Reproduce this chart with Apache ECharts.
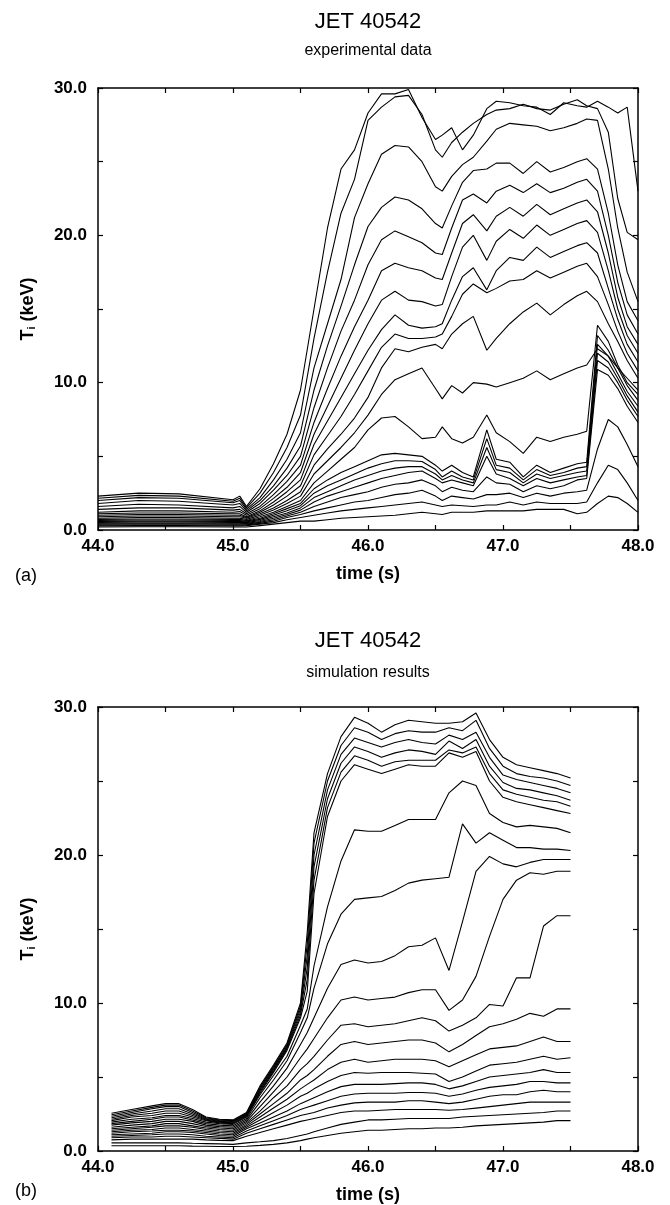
<!DOCTYPE html>
<html><head><meta charset="utf-8">
<script src="https://cdn.jsdelivr.net/npm/echarts@6/dist/echarts.min.js"></script>
<style>html,body{margin:0;padding:0;background:#fff}#c{width:670px;height:1205px}</style>
</head><body><div id="c"></div>
<script>
// ---------- Panel (a): experimental data ----------
const timeA = [44.0,44.3,44.6,45.0,45.05,45.1,45.2,45.3,45.4,45.5,45.6,45.7,45.8,45.9,46.0,46.1,46.2,46.3,46.4,46.5,46.55,46.62,46.7,46.78,46.88,46.95,47.05,47.15,47.25,47.35,47.45,47.55,47.62,47.7,47.78,47.85,47.92,48.0];
const exp01 = [2.3,2.5,2.45,2.05,2.3,1.6,2.8,4.5,6.5,9.5,15.0,20.5,24.5,25.8,28.3,29.6,29.6,29.9,28.0,26.5,26.8,27.3,25.8,26.8,28.6,29.1,29.0,28.8,28.7,28.2,29.0,28.8,28.7,29.1,28.7,28.3,28.7,23.0];
const exp02 = [2.15,2.35,2.3,1.95,2.15,1.5,2.5,3.9,5.6,7.8,13.0,17.5,21.5,23.8,27.8,28.7,29.4,29.5,28.2,25.8,25.3,26.3,27.0,27.6,28.2,28.5,28.6,28.9,28.6,28.5,28.9,29.2,28.8,28.6,27.0,22.5,20.2,19.7];
const exp03 = [2.0,2.2,2.15,1.85,2.0,1.4,2.2,3.4,4.8,6.6,11.0,14.0,17.0,21.2,23.5,25.5,26.1,26.0,25.0,23.3,23.0,24.0,24.8,25.3,26.4,27.2,27.6,27.5,27.4,27.1,27.3,27.6,27.9,27.8,24.5,20.5,17.5,15.5];
const exp04 = [1.8,2.0,1.95,1.7,1.8,1.3,2.0,3.0,4.2,5.7,9.5,12.5,15.2,18.0,20.6,21.9,22.6,22.4,21.8,20.8,20.5,22.0,23.6,24.4,24.5,24.9,24.9,24.2,25.0,24.3,24.6,25.0,25.2,24.5,21.5,18.0,15.5,14.2];
const exp05 = [1.6,1.75,1.7,1.5,1.6,1.2,1.8,2.7,3.7,5.0,8.3,11.0,13.5,15.6,18.0,19.7,20.3,19.9,19.5,18.8,18.7,20.5,22.4,22.8,22.2,23.0,23.4,22.9,23.5,22.9,23.2,23.6,23.8,23.0,20.0,16.8,14.6,13.3];
const exp06 = [1.4,1.5,1.5,1.35,1.4,1.1,1.6,2.4,3.3,4.4,7.3,9.6,11.8,13.8,15.6,17.6,18.1,17.8,17.6,17.1,17.0,18.8,20.8,21.4,20.3,21.3,21.9,21.3,22.1,21.4,21.8,22.2,22.4,21.6,18.8,15.8,13.8,12.6];
const exp07 = [1.2,1.3,1.3,1.2,1.25,1.0,1.45,2.15,2.9,3.9,6.5,8.4,10.3,12.2,14.0,15.6,16.2,15.6,15.5,15.2,15.3,17.2,19.2,20.0,18.3,19.6,20.4,19.8,20.7,20.0,20.4,20.8,21.0,20.2,17.6,15.0,13.2,12.0];
const exp08 = [1.1,1.15,1.15,1.1,1.1,0.9,1.3,1.9,2.6,3.4,5.8,7.4,9.0,10.6,12.2,13.6,14.6,13.9,13.7,13.8,14.0,15.6,17.2,17.8,16.3,17.6,18.5,18.3,19.2,18.5,18.9,19.3,19.5,18.8,16.4,14.3,12.6,11.4];
const exp09 = [1.0,1.05,1.05,1.0,1.0,0.85,1.2,1.7,2.3,3.0,5.1,6.4,7.7,9.2,10.8,12.4,13.3,13.0,13.0,13.1,13.3,14.5,16.0,16.7,16.1,16.4,16.9,17.0,17.6,17.1,17.5,17.9,18.1,17.2,15.3,13.5,12.0,10.8];
const exp10 = [0.9,0.95,0.95,0.9,0.9,0.8,1.1,1.5,2.0,2.6,4.4,5.5,6.5,7.6,9.0,11.0,12.3,12.1,12.4,12.6,12.3,13.3,14.0,14.5,12.2,13.0,14.0,14.8,15.4,14.6,15.3,15.9,16.2,15.5,14.0,12.8,11.5,10.3];
const exp11 = [0.8,0.85,0.85,0.8,0.8,0.72,1.0,1.35,1.8,2.3,3.8,4.7,5.6,6.6,7.8,9.2,10.2,10.6,11.0,9.6,8.9,9.8,9.3,10.0,9.9,9.7,10.0,10.3,10.8,10.2,10.6,11.0,11.2,12.3,11.8,11.0,10.3,9.5];
const exp12 = [0.72,0.75,0.75,0.72,0.72,0.65,0.9,1.2,1.6,2.0,3.2,4.0,4.8,5.6,6.8,7.6,7.7,7.0,6.2,6.3,7.0,6.2,5.9,6.3,7.8,6.6,6.0,5.2,6.3,6.0,6.3,6.5,6.7,13.9,12.8,11.2,10.0,9.2];
const exp13 = [0.65,0.68,0.68,0.65,0.65,0.6,0.8,1.1,1.45,1.8,2.8,3.4,3.9,4.3,4.7,5.1,5.2,5.1,5.0,4.4,4.0,4.4,3.9,3.6,6.8,4.8,4.6,3.6,4.4,3.9,4.2,4.5,4.6,13.2,12.2,11.0,9.8,8.8];
const exp14 = [0.58,0.6,0.6,0.58,0.58,0.55,0.72,1.0,1.3,1.65,2.5,3.0,3.4,3.8,4.2,4.5,4.7,4.7,4.65,4.1,3.6,4.0,3.6,3.4,6.2,4.4,4.2,3.4,4.1,3.7,3.9,4.2,4.3,12.6,11.8,10.6,9.4,8.4];
const exp15 = [0.52,0.54,0.54,0.52,0.52,0.5,0.65,0.9,1.15,1.5,2.2,2.6,3.0,3.4,3.7,4.0,4.2,4.3,4.3,3.8,3.4,3.7,3.4,3.2,5.6,4.1,3.9,3.2,3.8,3.5,3.7,3.9,4.0,12.0,11.4,10.3,9.1,8.0];
const exp16 = [0.46,0.48,0.48,0.46,0.46,0.45,0.58,0.8,1.05,1.35,1.9,2.3,2.6,2.9,3.2,3.5,3.7,3.9,4.0,3.5,3.2,3.4,3.2,3.0,5.0,3.8,3.5,3.0,3.5,3.2,3.4,3.6,3.7,11.5,11.0,10.0,8.8,7.7];
const exp17 = [0.4,0.42,0.42,0.4,0.4,0.4,0.52,0.7,0.95,1.2,1.6,1.9,2.2,2.4,2.6,2.9,3.1,3.2,3.4,3.0,2.6,2.9,2.7,2.6,3.6,3.2,3.1,2.6,3.0,2.8,3.0,3.4,3.5,10.9,10.5,9.6,8.4,7.3];
const exp18 = [0.34,0.36,0.36,0.34,0.34,0.35,0.45,0.6,0.85,1.05,1.3,1.5,1.7,1.9,2.0,2.2,2.4,2.5,2.7,2.3,2.0,2.3,2.2,2.1,2.4,2.4,2.5,2.2,2.5,2.3,2.5,2.6,2.7,5.5,7.5,7.0,5.8,4.3];
const exp19 = [0.28,0.3,0.3,0.28,0.28,0.3,0.4,0.5,0.7,0.85,1.0,1.15,1.3,1.4,1.5,1.6,1.7,1.8,1.9,1.7,1.6,1.7,1.65,1.6,1.7,1.7,1.9,1.7,1.9,1.8,1.8,1.8,1.9,3.2,4.4,4.1,3.2,2.0];
const exp20 = [0.2,0.22,0.22,0.2,0.2,0.2,0.3,0.4,0.5,0.6,0.6,0.7,0.8,0.85,0.9,0.95,1.0,1.1,1.2,1.1,1.05,1.2,1.2,1.2,1.3,1.3,1.3,1.3,1.4,1.4,1.4,1.1,1.2,1.8,2.3,2.2,1.8,1.2];

// ---------- Panel (b): simulation results ----------
const timeB = [44.1,44.25,44.4,44.5,44.6,44.7,44.8,44.9,45.0,45.1,45.2,45.3,45.4,45.5,45.55,45.6,45.7,45.8,45.9,46.0,46.1,46.2,46.3,46.4,46.5,46.6,46.7,46.8,46.9,47.0,47.1,47.2,47.3,47.4,47.5];
const sim01 = [2.55,2.8,3.05,3.2,3.2,2.8,2.3,2.15,2.1,2.6,4.4,5.8,7.3,10.0,14.8,21.5,25.5,28.0,29.3,28.9,28.3,28.8,29.1,29.0,28.9,28.9,29.0,29.6,27.8,26.6,26.1,25.9,25.7,25.5,25.2];
const sim02 = [2.45,2.7,2.95,3.1,3.1,2.7,2.25,2.1,2.05,2.55,4.3,5.7,7.2,9.8,14.0,20.8,25.0,27.4,28.6,28.3,27.8,28.2,28.4,28.3,28.3,28.6,28.4,29.1,27.2,26.0,25.5,25.3,25.2,25.0,24.7];
const sim03 = [2.35,2.6,2.85,3.0,3.0,2.6,2.2,2.05,2.0,2.5,4.2,5.6,7.1,9.6,13.2,20.0,24.4,26.8,27.9,27.6,27.3,27.6,27.8,27.6,27.5,28.1,27.8,28.3,26.6,25.4,25.1,24.9,24.7,24.5,24.2];
const sim04 = [2.25,2.5,2.7,2.85,2.85,2.5,2.15,2.0,1.95,2.45,4.1,5.5,7.0,9.4,12.4,19.2,23.8,26.2,27.3,27.0,26.6,26.9,27.1,27.0,26.8,27.7,27.2,27.8,26.0,24.9,24.5,24.4,24.2,24.0,23.7];
const sim05 = [2.15,2.4,2.55,2.7,2.7,2.4,2.1,1.95,1.9,2.4,4.0,5.4,6.9,9.2,11.6,18.3,23.2,25.6,26.7,26.4,26.0,26.3,26.4,26.4,26.4,27.1,26.9,27.3,25.5,24.4,24.1,23.9,23.7,23.6,23.3];
const sim06 = [2.05,2.3,2.4,2.55,2.55,2.3,2.05,1.9,1.85,2.35,3.9,5.3,6.8,9.0,10.8,17.4,22.6,25.0,26.1,25.8,25.5,25.8,26.1,26.0,26.0,26.9,26.6,27.0,25.0,23.9,23.6,23.4,23.2,23.0,22.8];
const sim07 = [1.95,2.15,2.25,2.4,2.4,2.2,1.95,1.85,1.8,2.3,3.8,5.1,6.4,8.5,9.6,12.5,16.5,19.6,21.7,21.6,21.6,22.0,22.4,22.4,22.4,24.2,25.0,24.7,22.8,22.2,21.9,22.0,21.9,21.8,21.5];
const sim08 = [1.85,2.0,2.15,2.3,2.3,2.1,1.85,1.75,1.7,2.2,3.6,4.8,6.1,8.0,9.0,11.0,14.0,16.0,17.0,17.1,17.2,17.6,18.1,18.3,18.4,18.5,22.1,20.8,21.5,21.0,20.5,20.5,20.4,20.4,20.3];
const sim09 = [1.75,1.9,2.0,2.15,2.15,2.0,1.75,1.65,1.6,2.1,3.3,4.4,5.6,7.2,8.0,9.0,11.0,12.6,12.9,12.7,12.8,13.2,13.8,13.9,14.4,12.2,15.5,18.9,19.9,19.4,19.2,19.5,19.7,19.7,19.7];
const sim10 = [1.6,1.75,1.85,2.0,2.0,1.85,1.65,1.55,1.5,2.0,3.0,4.0,5.0,6.3,6.9,7.6,9.0,10.2,10.4,10.2,10.3,10.4,10.7,10.9,10.9,9.5,10.2,11.8,14.5,17.0,18.3,18.8,18.7,18.9,18.9];
const sim11 = [1.5,1.6,1.7,1.85,1.85,1.7,1.55,1.45,1.4,1.9,2.7,3.6,4.4,5.5,5.9,6.4,7.5,8.5,8.6,8.4,8.5,8.6,8.8,9.0,8.8,8.1,8.5,9.0,9.9,9.8,11.7,11.7,15.2,15.9,15.9];
const sim12 = [1.4,1.5,1.6,1.7,1.7,1.6,1.45,1.35,1.3,1.8,2.5,3.2,3.9,4.8,5.1,5.5,6.4,7.2,7.4,7.2,7.3,7.4,7.5,7.5,7.3,6.7,7.2,7.8,8.4,8.6,8.9,9.3,9.1,9.6,9.6];
const sim13 = [1.3,1.4,1.45,1.55,1.55,1.45,1.35,1.25,1.2,1.7,2.3,2.9,3.5,4.2,4.5,4.8,5.5,6.0,6.2,6.0,6.1,6.2,6.2,6.2,6.1,5.7,6.1,6.5,6.9,7.0,7.1,7.4,7.7,7.4,7.4];
const sim14 = [1.2,1.3,1.35,1.4,1.4,1.35,1.25,1.15,1.1,1.6,2.1,2.6,3.1,3.7,3.9,4.2,4.7,5.1,5.3,5.25,5.3,5.3,5.3,5.25,5.2,4.7,5.0,5.4,5.8,5.9,6.0,6.2,6.4,6.2,6.3];
const sim15 = [1.1,1.15,1.2,1.3,1.3,1.25,1.15,1.05,1.0,1.5,1.9,2.3,2.7,3.2,3.4,3.6,4.0,4.35,4.5,4.5,4.5,4.55,4.6,4.6,4.5,4.2,4.4,4.7,5.0,5.1,5.2,5.3,5.5,5.3,5.3];
const sim16 = [1.0,1.05,1.1,1.15,1.15,1.1,1.0,0.95,0.9,1.35,1.7,2.05,2.4,2.8,2.95,3.1,3.4,3.7,3.85,3.9,3.9,3.9,3.95,3.95,3.9,3.7,3.85,4.1,4.3,4.4,4.5,4.7,4.7,4.6,4.6];
const sim17 = [0.9,0.95,0.95,1.0,1.0,0.95,0.9,0.85,0.8,1.2,1.5,1.8,2.1,2.4,2.5,2.6,2.9,3.1,3.25,3.3,3.3,3.3,3.4,3.4,3.3,3.2,3.3,3.5,3.7,3.8,3.8,4.0,4.1,4.0,4.0];
const sim18 = [0.75,0.8,0.8,0.8,0.8,0.8,0.75,0.72,0.7,1.0,1.25,1.5,1.75,2.0,2.1,2.2,2.4,2.6,2.7,2.7,2.75,2.8,2.8,2.8,2.8,2.75,2.8,2.9,3.0,3.1,3.2,3.3,3.3,3.3,3.3];
const sim19 = [0.55,0.55,0.55,0.55,0.55,0.52,0.5,0.48,0.45,0.55,0.62,0.7,0.85,1.05,1.15,1.3,1.55,1.8,1.95,2.1,2.1,2.15,2.2,2.2,2.2,2.2,2.3,2.35,2.4,2.45,2.5,2.55,2.6,2.7,2.7];
const sim20 = [0.35,0.35,0.35,0.35,0.35,0.33,0.32,0.3,0.3,0.32,0.38,0.45,0.55,0.7,0.8,0.9,1.05,1.2,1.3,1.4,1.4,1.45,1.5,1.5,1.55,1.55,1.6,1.7,1.75,1.8,1.85,1.9,1.95,2.05,2.05];

// ---------- axis tick labels ----------
const xTicks = [44, 45, 46, 47, 48];
const yTicks = [0, 10, 20, 30];

const expSeries = [exp01,exp02,exp03,exp04,exp05,exp06,exp07,exp08,exp09,exp10,exp11,exp12,exp13,exp14,exp15,exp16,exp17,exp18,exp19,exp20];
const simSeries = [sim01,sim02,sim03,sim04,sim05,sim06,sim07,sim08,sim09,sim10,sim11,sim12,sim13,sim14,sim15,sim16,sim17,sim18,sim19,sim20];

const FONT = '"Liberation Sans", Arial, Helvetica, sans-serif';
const BLACK = '#000';

function axisCommon(showLabels) {
  return {
    axisLine: {show: true, onZero: false, lineStyle: {color: BLACK, width: 1.5}},
    axisTick: {show: true, inside: true, length: 5, lineStyle: {color: BLACK, width: 1.2}},
    minorTick: {show: true, splitNumber: 2, length: 5, lineStyle: {color: BLACK, width: 1.2}},
    splitLine: {show: false},
    minorSplitLine: {show: false},
    axisLabel: {show: showLabels, color: BLACK, fontFamily: FONT, fontWeight: 'bold', fontSize: 17,
                formatter: v => v.toFixed(1)}
  };
}
function makeX(gi, pos, showLabels) {
  const a = Object.assign({type: 'value', gridIndex: gi, position: pos,
    min: xTicks[0], max: xTicks[xTicks.length - 1], interval: xTicks[1] - xTicks[0]}, axisCommon(showLabels));
  a.axisLabel.margin = 8;
  if (showLabels) {
    a.name = 'time (s)'; a.nameLocation = 'middle'; a.nameGap = 35;
    a.nameTextStyle = {color: BLACK, fontFamily: FONT, fontSize: 18, fontWeight: 'bold'};
  }
  return a;
}
function makeY(gi, pos, showLabels) {
  const a = Object.assign({type: 'value', gridIndex: gi, position: pos,
    min: yTicks[0], max: yTicks[yTicks.length - 1], interval: yTicks[1] - yTicks[0]}, axisCommon(showLabels));
  a.axisLabel.margin = 11;
  if (showLabels) {
    a.name = '{t|T}{s|i}{t| (keV)}'; a.nameLocation = 'middle'; a.nameGap = 61; a.nameRotate = 90;
    a.nameTextStyle = {color: BLACK, fontFamily: FONT, fontSize: 18, fontWeight: 'bold',
      rich: {t: {fontSize: 18, fontFamily: FONT, fontWeight: 'bold', color: BLACK},
             s: {fontSize: 11, fontFamily: FONT, fontWeight: 'bold', color: BLACK, verticalAlign: 'bottom', padding: [7, 0, 0, 0]}}};
  }
  return a;
}

function lines(arrs, times, xi, yi) {
  return arrs.map((arr, k) => ({
    type: 'line', xAxisIndex: xi, yAxisIndex: yi, name: (xi === 0 ? 'exp' : 'sim') + (k + 1),
    data: times.map((t, i) => [t, arr[i]]),
    showSymbol: false, symbol: 'none', smooth: false, silent: true, animation: false,
    lineStyle: {color: BLACK, width: 1.1}, z: 3
  }));
}

const chart = echarts.init(document.getElementById('c'), null, {renderer: 'canvas'});
chart.setOption({
  backgroundColor: '#fff',
  animation: false,
  grid: [
    {left: 98, right: 32, top: 88, height: 442, containLabel: false},
    {left: 98, right: 32, top: 707, height: 444, containLabel: false}
  ],
  xAxis: [makeX(0, 'bottom', true), makeX(0, 'top', false), makeX(1, 'bottom', true), makeX(1, 'top', false)],
  yAxis: [makeY(0, 'left', true), makeY(0, 'right', false), makeY(1, 'left', true), makeY(1, 'right', false)],
  series: [].concat(lines(expSeries, timeA, 0, 0), lines(simSeries, timeB, 2, 2)),
  graphic: [
    {type: 'text', x: 368, y: 22, style: {text: 'JET 40542', font: '22px ' + FONT, fill: BLACK, textAlign: 'center', textVerticalAlign: 'middle', verticalAlign: 'middle'}},
    {type: 'text', x: 368, y: 51, style: {text: 'experimental data', font: '16px ' + FONT, fill: BLACK, textAlign: 'center', textVerticalAlign: 'middle', verticalAlign: 'middle'}},
    {type: 'text', x: 368, y: 641, style: {text: 'JET 40542', font: '22px ' + FONT, fill: BLACK, textAlign: 'center', textVerticalAlign: 'middle', verticalAlign: 'middle'}},
    {type: 'text', x: 368, y: 673, style: {text: 'simulation results', font: '16px ' + FONT, fill: BLACK, textAlign: 'center', textVerticalAlign: 'middle', verticalAlign: 'middle'}},
    {type: 'text', x: 15, y: 576, style: {text: '(a)', font: '18px ' + FONT, fill: BLACK, textAlign: 'left', textVerticalAlign: 'middle', verticalAlign: 'middle'}},
    {type: 'text', x: 15, y: 1191, style: {text: '(b)', font: '18px ' + FONT, fill: BLACK, textAlign: 'left', textVerticalAlign: 'middle', verticalAlign: 'middle'}}
  ]
});
</script></body></html>
